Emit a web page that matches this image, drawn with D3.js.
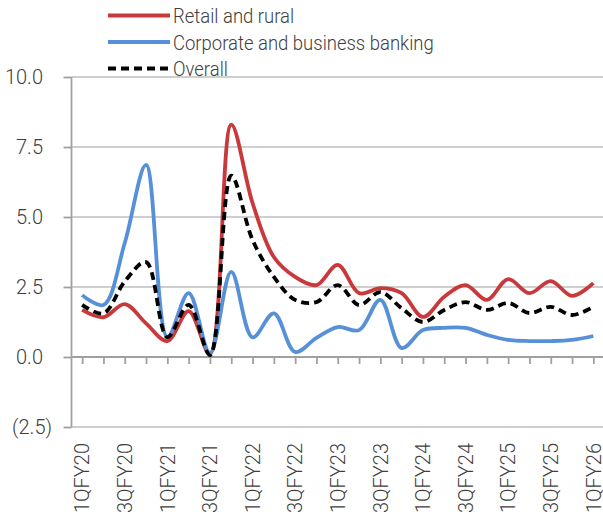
<!DOCTYPE html>
<html>
<head>
<meta charset="utf-8">
<script src="https://cdn.jsdelivr.net/npm/d3@7"></script>
<style>
  html, body { margin: 0; padding: 0; background: #fff; }
  svg { display: block; }
  text { font-family: Roboto, "Noto Sans", sans-serif; font-weight: 300; fill: #404040; }
</style>
</head>
<body>
<svg id="chart" width="603" height="520"></svg>
<script>
const quarters = ["1QFY20","2QFY20","3QFY20","4QFY20","1QFY21","2QFY21","3QFY21","4QFY21",
  "1QFY22","2QFY22","3QFY22","4QFY22","1QFY23","2QFY23","3QFY23","4QFY23",
  "1QFY24","2QFY24","3QFY24","4QFY24","1QFY25","2QFY25","3QFY25","4QFY25","1QFY26"];
const retail = [1.68,1.42,1.89,1.20,0.57,1.64,0.10,8.30,5.50,3.57,2.86,2.57,3.29,2.28,2.46,2.28,1.43,2.15,2.57,2.04,2.78,2.28,2.71,2.18,2.64];
const corporate = [2.21,1.86,4.07,6.86,0.71,2.28,0.14,3.04,0.70,1.56,0.18,0.68,1.07,0.96,2.04,0.32,0.96,1.04,1.04,0.79,0.61,0.57,0.57,0.61,0.75];
const overall = [1.86,1.56,2.70,3.39,0.71,1.86,0.07,6.48,4.18,2.86,2.04,1.96,2.57,1.86,2.32,1.74,1.25,1.68,1.96,1.68,1.93,1.57,1.79,1.50,1.79];
const yTicks = [-2.5, 0, 2.5, 5, 7.5, 10];
const xLabelEvery = 2;

const seriesNames = ["Retail and rural", "Corporate and business banking", "Overall"];
const seriesColors = ["#c9393b", "#5690d8", "#000000"];
const seriesDash = [null, null, "8,5"];
const seriesData = [retail, corporate, overall];

const svg = d3.select("#chart");
const pLeft = 71.5, pRight = 604, pTop = 77, pBottom = 427;

const x = d3.scalePoint().domain(quarters).range([pLeft, pRight]).padding(0.5);
const y = d3.scaleLinear().domain([-2.5, 10]).range([pBottom, pTop]);

// gridlines
svg.append("g").selectAll("line").data(yTicks.filter(d => d !== 0)).join("line")
  .attr("x1", pLeft).attr("x2", 603)
  .attr("y1", d => y(d)).attr("y2", d => y(d))
  .attr("stroke", "#cfcfcf").attr("stroke-width", 1.8);

// y axis
const yAxis = d3.axisLeft(y).tickValues(yTicks).tickSize(8).tickPadding(20)
  .tickFormat(d => d < 0 ? "(" + d3.format(".1f")(-d) + ")" : d3.format(".1f")(d));
const gy = svg.append("g").attr("transform", `translate(${pLeft},0)`).call(yAxis);
gy.select(".domain").attr("stroke", "#a0a0a0").attr("stroke-width", 1.8).attr("d", `M0,${pTop}V${pBottom}`);
gy.selectAll(".tick line").attr("stroke", "#a0a0a0").attr("stroke-width", 1.8);
gy.selectAll(".tick text").attr("font-size", 20).attr("fill", "#404040")
  .attr("font-family", "Roboto, sans-serif").attr("font-weight", 300)
  .attr("x", d => d < 0 ? -19.5 : -28.5);

// x axis at zero
const xAxis = d3.axisBottom(x).tickSize(7).tickFormat("");
const gx = svg.append("g").attr("transform", `translate(0,${y(0)})`).call(xAxis);
gx.select(".domain").attr("stroke", "#a0a0a0").attr("stroke-width", 1.8).attr("d", `M${pLeft},0H603`);
gx.selectAll(".tick line").attr("stroke", "#a0a0a0").attr("stroke-width", 1.8);

// x labels (rotated)
svg.append("g").selectAll("text").data(quarters.filter((d, i) => i % xLabelEvery === 0)).join("text")
  .attr("transform", d => `translate(${x(d)},443) rotate(-90)`)
  .attr("text-anchor", "end").attr("dy", "0.36em")
  .attr("font-size", 20)
  .text(d => d);

// lines
const line = d3.line().x((d, i) => x(quarters[i])).y(d => y(d)).curve(d3.curveCatmullRom.alpha(0.5));
seriesData.forEach((arr, k) => {
  svg.append("path").datum(arr)
    .attr("d", line)
    .attr("fill", "none")
    .attr("stroke", seriesColors[k])
    .attr("stroke-width", 3.8)
    .attr("stroke-dasharray", seriesDash[k])
    .attr("stroke-linejoin", "round");
});

// legend
const lg = svg.append("g");
seriesNames.forEach((name, k) => {
  const cy = 15.5 + k * 26.5;
  lg.append("line").attr("x1", 108).attr("x2", 170).attr("y1", cy).attr("y2", cy)
    .attr("stroke", seriesColors[k]).attr("stroke-width", 3.8)
    .attr("stroke-dasharray", seriesDash[k]);
  lg.append("text").attr("transform", `translate(173,${cy + 7.5}) scale(0.925,1)`)
    .attr("font-size", 20).text(name);
});
</script>
</body>
</html>
